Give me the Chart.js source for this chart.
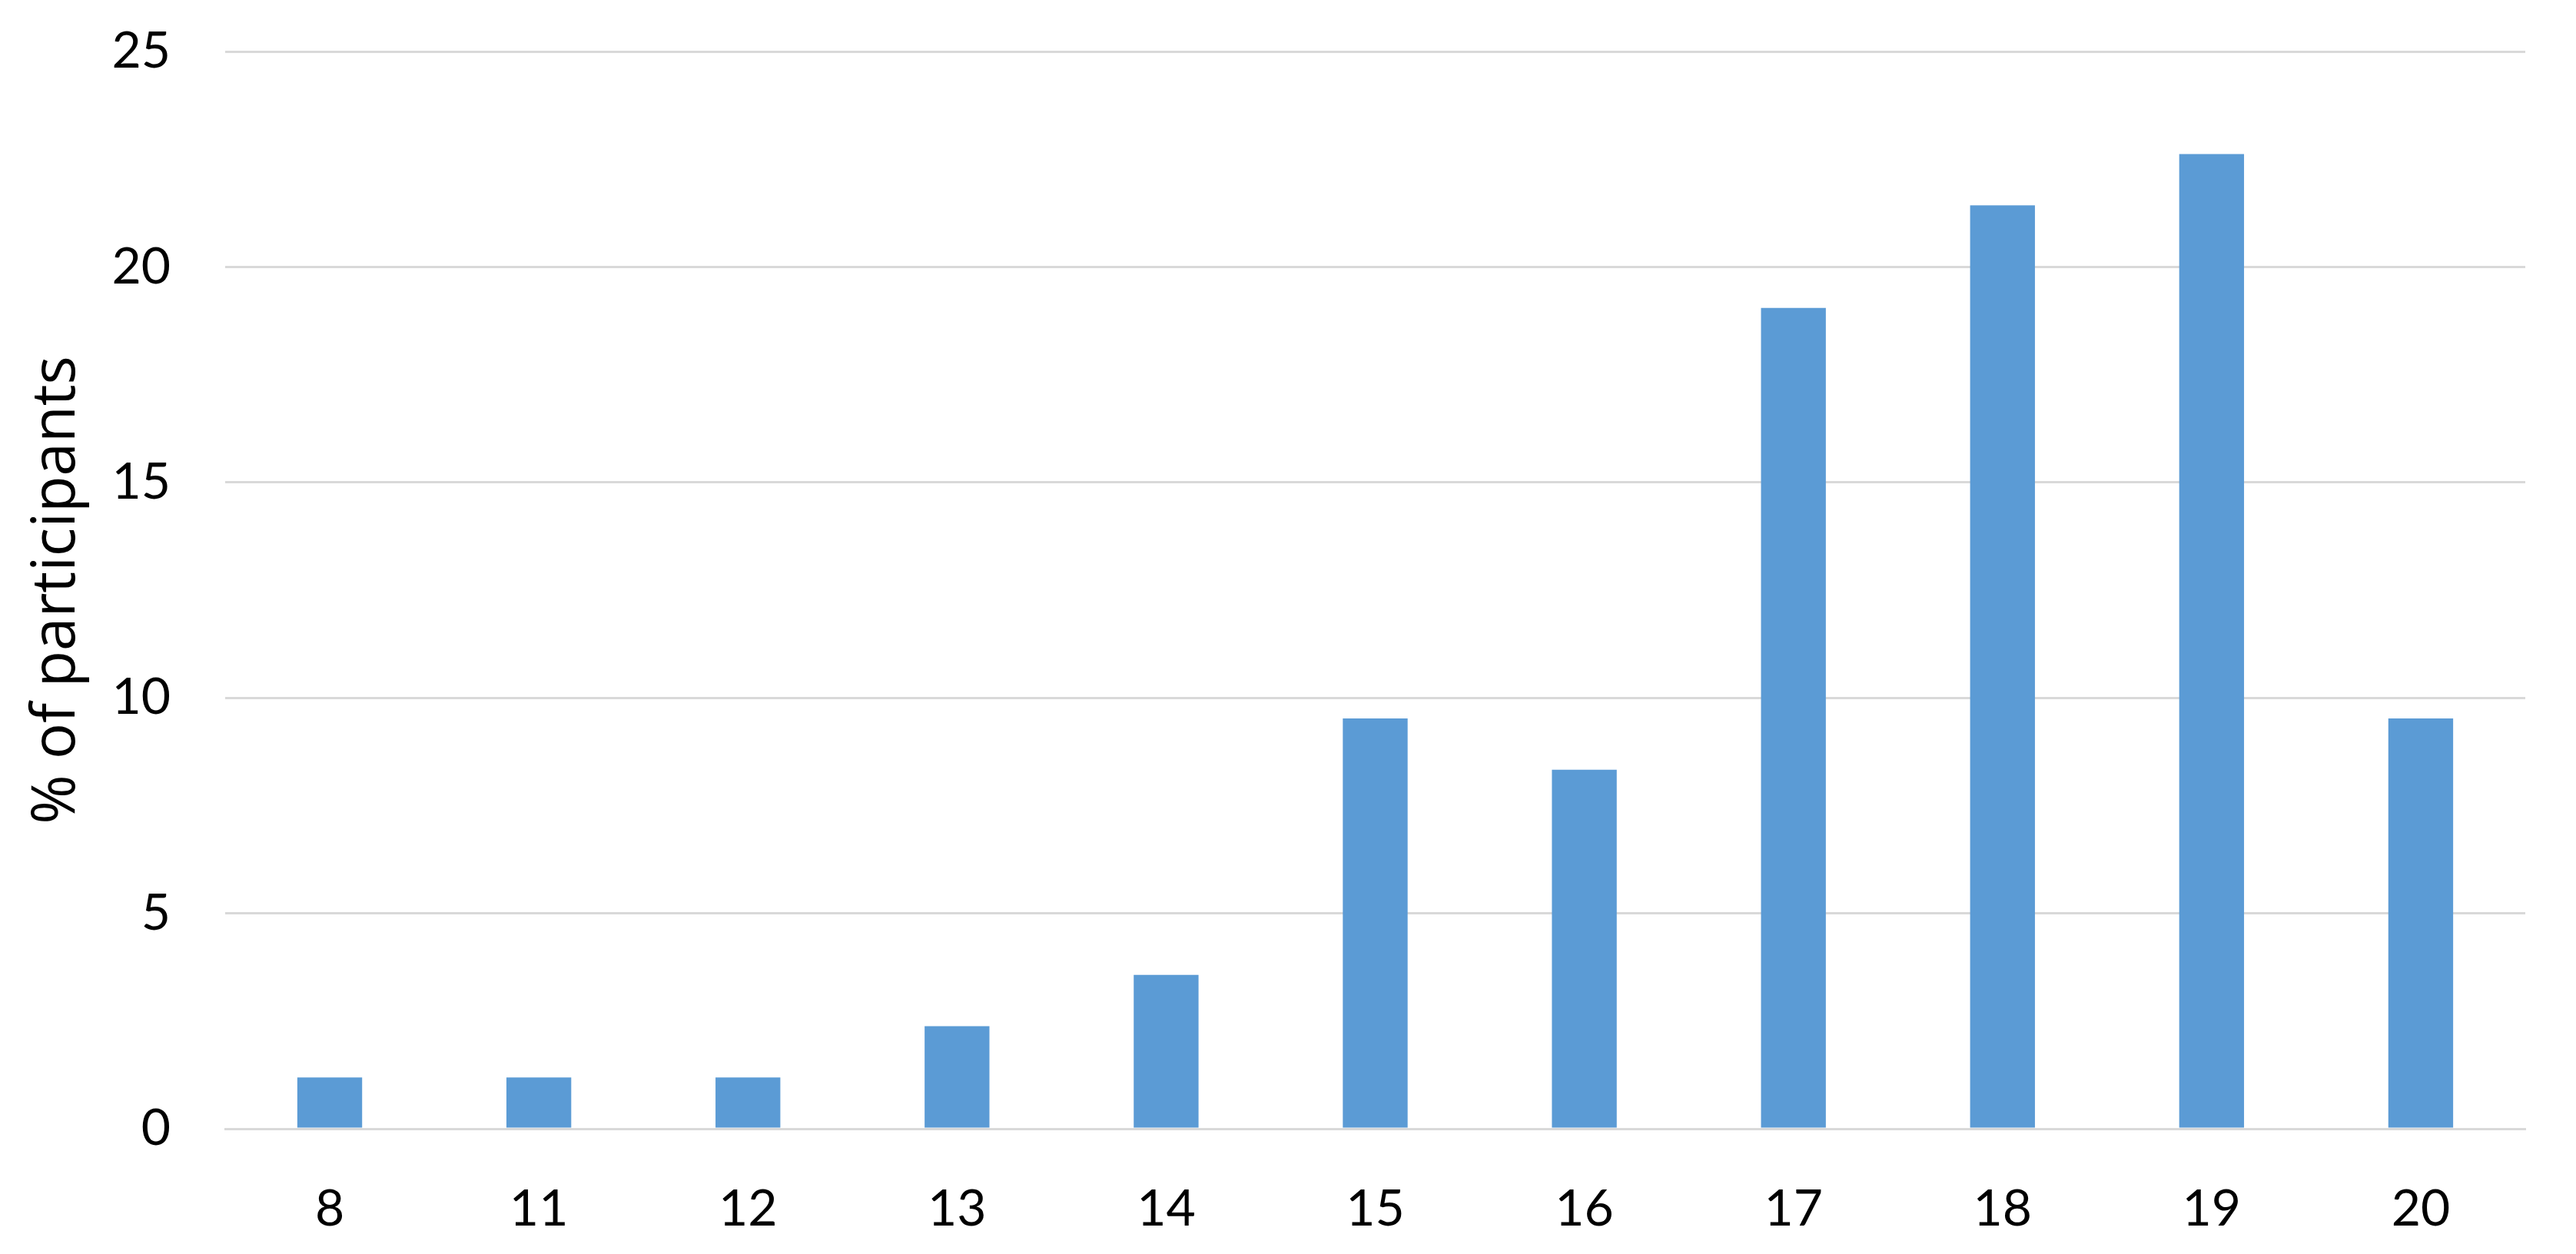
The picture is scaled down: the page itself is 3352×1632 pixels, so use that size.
<!DOCTYPE html>
<html>
<head>
<meta charset="utf-8">
<script src="https://cdn.jsdelivr.net/npm/chart.js@4.4.1/dist/chart.umd.min.js"></script>
<style>
  html, body { margin: 0; padding: 0; background: #ffffff; }
  #wrap { width: 3352px; height: 1632px; }
</style>
</head>
<body>
<div id="wrap"><canvas id="c" width="3352" height="1632"></canvas></div>
<script>
const categories = ["8", "11", "12", "13", "14", "15", "16", "17", "18", "19", "20"];
const percentValues = [1.19, 1.19, 1.19, 2.38, 3.57, 9.52, 8.33, 19.05, 21.43, 22.62, 9.52];
const yTickMin = 0;
const yTickMax = 25;
const yTickStep = 5;
const yAxisTitle = "% of participants";

const FONT = "Lato, 'Open Sans', 'DejaVu Sans', sans-serif";

new Chart(document.getElementById('c'), {
  type: 'bar',
  data: {
    labels: categories,
    datasets: [{
      data: percentValues,
      backgroundColor: '#5B9BD5',
      borderWidth: 0,
      barPercentage: 0.62,
      categoryPercentage: 0.5
    }]
  },
  options: {
    responsive: false,
    animation: false,
    devicePixelRatio: 1,
    layout: { padding: { top: 67, right: 66, bottom: 0, left: 0 } },
    plugins: { legend: { display: false }, tooltip: { enabled: false } },
    scales: {
      x: {
        grid: { display: false, drawTicks: false },
        border: { display: true, color: '#d9d9d9', width: 3 },
        ticks: { color: '#000000', font: { family: FONT, size: 66 }, padding: 65 },
        afterFit: (s) => { s.height = 163; s.paddingLeft = 0; s.paddingRight = 0; }
      },
      y: {
        min: yTickMin,
        max: yTickMax,
        ticks: { stepSize: yTickStep, color: '#000000', font: { family: FONT, size: 66 }, padding: 71 },
        grid: { color: '#d9d9d9', lineWidth: 3, drawTicks: false },
        border: { display: false },
        title: {
          display: true,
          text: yAxisTitle,
          color: '#000000',
          font: { family: "'Open Sans', Lato, sans-serif", size: 78 },
          padding: { top: 28, bottom: 0 }
        },
        afterFit: (s) => { s.width = 293; s.paddingTop = 0; s.paddingBottom = 0; }
      }
    }
  }
});
</script>
</body>
</html>
